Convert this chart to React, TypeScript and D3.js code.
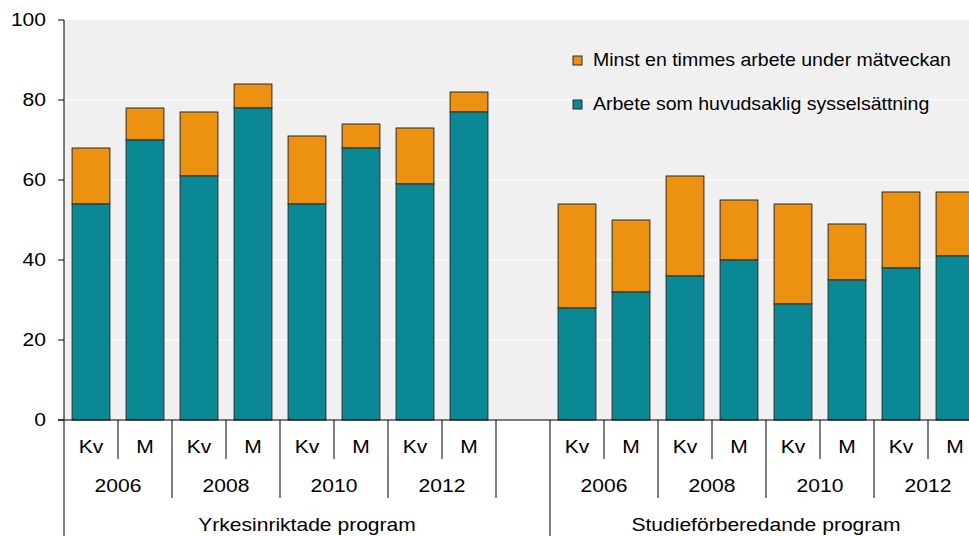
import React from 'react';
import * as d3 from 'd3';

// Values (percent)
const programs = ['Yrkesinriktade program', 'Studieförberedande program'];
const years = ['2006', '2008', '2010', '2012'];
const terms = ['Kv', 'M'];
const yTicks = [0, 20, 40, 60, 80, 100];

// teal: work as main occupation
const huvudsaklig = [
  [54, 70, 61, 78, 54, 68, 59, 77],
  [28, 32, 36, 40, 29, 35, 38, 41],
];
// orange top: at least one hour of work during the survey week (total)
const minstEnTimme = [
  [68, 78, 77, 84, 71, 74, 73, 82],
  [54, 50, 61, 55, 54, 49, 57, 57],
];

const legendItems = [
  { label: 'Minst en timmes arbete under mätveckan', color: '#ec9110' },
  { label: 'Arbete som huvudsaklig sysselsättning', color: '#0a8893' },
];

const W = 969;
const H = 536;
const margin = { top: 20, left: 64, bottom: 116 };
const slotW = 54;
const FONT = 'Liberation Sans, Arial, sans-serif';

// the source text is a little wider than Arial at the same height
const Label = ({
  x,
  y,
  anchor = 'middle',
  size = 18,
  stretch = 1.17,
  children,
}: {
  x: number;
  y: number;
  anchor?: string;
  size?: number;
  stretch?: number;
  children: React.ReactNode;
}) => (
  <text
    transform={`translate(${x},${y}) scale(${stretch},1)`}
    dy="0.35em"
    textAnchor={anchor}
    fontSize={size}
    fill="#000"
  >
    {children}
  </text>
);

export default function App() {
  const perGroup = years.length * terms.length;
  // 8 bars + an empty slot + 8 bars
  const slots = d3.range(perGroup * 2 + 1).map(String);
  const slotOf = (g: number, i: number) => g * (perGroup + 1) + i;

  const x = d3
    .scaleBand<string>()
    .domain(slots)
    .range([margin.left, margin.left + slots.length * slotW])
    .paddingInner(0.3)
    .paddingOuter(0.15);
  const step = x.step();
  const slotLeft = (s: number) => margin.left + s * step;

  const y = d3.scaleLinear().domain([0, 100]).range([H - margin.bottom, margin.top]);
  const y0 = y(0);

  const bars: { s: number; main: number; total: number }[] = [];
  programs.forEach((_, g) => {
    huvudsaklig[g].forEach((v, i) => bars.push({ s: slotOf(g, i), main: v, total: minstEnTimme[g][i] }));
  });

  const rowY = [y0 + 27, y0 + 66, y0 + 105];

  return (
    <svg
      width={W}
      height={H}
      style={{ position: 'absolute', left: 0, top: 0, background: '#fff' }}
      fontFamily={FONT}
    >
      {/* plot background */}
      <rect x={margin.left} y={margin.top} width={W - margin.left} height={y0 - margin.top} fill="#f0f0f0" />
      {yTicks.slice(1, -1).map((t) => (
        <line key={t} x1={margin.left} x2={W} y1={y(t)} y2={y(t)} stroke="#fff" strokeWidth={1.2} />
      ))}

      {/* bars */}
      {bars.map((b) => {
        const bx = x(String(b.s))!;
        const bw = x.bandwidth();
        return (
          <g key={b.s} stroke="#2a2a2a" strokeWidth={1}>
            <rect x={bx} y={y(b.total)} width={bw} height={y(b.main) - y(b.total)} fill="#ec9110" />
            <rect x={bx} y={y(b.main)} width={bw} height={y0 - y(b.main)} fill="#0a8893" />
          </g>
        );
      })}

      {/* y axis */}
      <line x1={margin.left} x2={margin.left} y1={margin.top} y2={H} stroke="#000" />
      {yTicks.map((t) => (
        <g key={t}>
          <line x1={margin.left - 6} x2={margin.left} y1={y(t)} y2={y(t)} stroke="#000" />
          <Label x={margin.left - 18} y={y(t)} anchor="end">
            {t}
          </Label>
        </g>
      ))}

      {/* x axis */}
      <line x1={margin.left - 6} x2={W} y1={y0} y2={y0} stroke="#000" />
      {programs.map((p, g) => {
        const gStart = slotLeft(slotOf(g, 0));
        const gEnd = slotLeft(slotOf(g, perGroup));
        // the first program label is centred over its bars plus the empty slot
        const labelEnd = g < programs.length - 1 ? slotLeft(slotOf(g + 1, 0)) : gEnd;
        return (
          <g key={p}>
            {years.map((yr, k) => {
              const yStart = slotLeft(slotOf(g, k * terms.length));
              const yEnd = slotLeft(slotOf(g, (k + 1) * terms.length));
              return (
                <g key={yr}>
                  {terms.map((t, j) => {
                    const s = slotOf(g, k * terms.length + j);
                    const cx = slotLeft(s) + step / 2;
                    return (
                      <g key={t}>
                        {j > 0 && (
                          <line x1={slotLeft(s)} x2={slotLeft(s)} y1={y0} y2={y0 + 39} stroke="#000" />
                        )}
                        <Label x={cx} y={rowY[0]}>
                          {t}
                        </Label>
                      </g>
                    );
                  })}
                  {k > 0 && <line x1={yStart} x2={yStart} y1={y0} y2={y0 + 78} stroke="#000" />}
                  <Label x={(yStart + yEnd) / 2} y={rowY[1]}>
                    {yr}
                  </Label>
                </g>
              );
            })}
            {g === 0 && <line x1={gEnd} x2={gEnd} y1={y0} y2={y0 + 78} stroke="#000" />}
            {g > 0 && <line x1={gStart} x2={gStart} y1={y0} y2={H} stroke="#000" />}
            <Label x={(gStart + labelEnd) / 2} y={rowY[2]}>
              {p}
            </Label>
          </g>
        );
      })}

      {/* legend */}
      {legendItems.map((it, i) => (
        <g key={it.label}>
          <rect x={573} y={56 + i * 44} width={9} height={9} fill={it.color} stroke="#2a2a2a" strokeWidth={1} />
          <Label x={593} y={60 + i * 44} anchor="start" stretch={1.085}>
            {it.label}
          </Label>
        </g>
      ))}
    </svg>
  );
}
